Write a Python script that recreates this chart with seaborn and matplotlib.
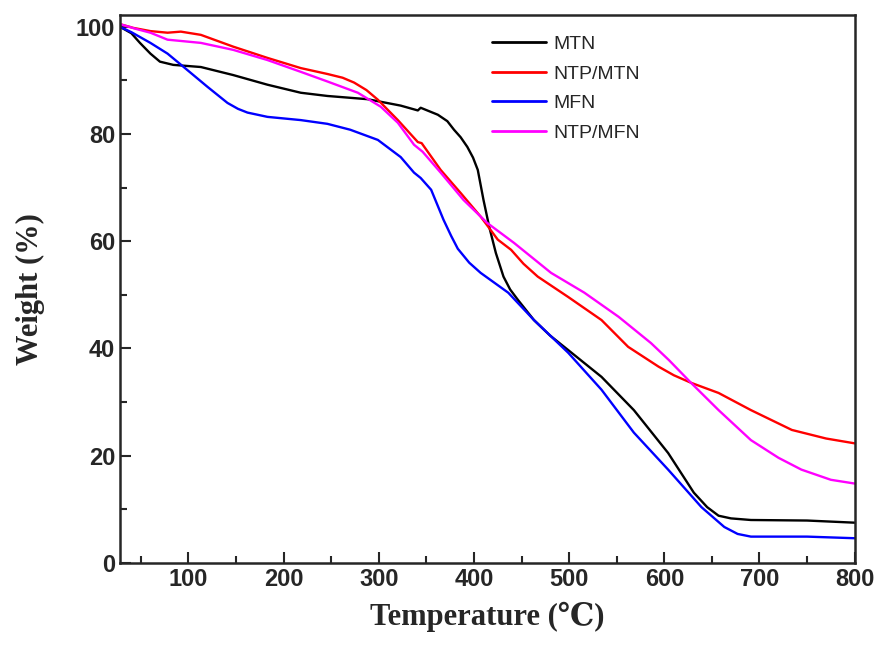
import pandas as pd
import numpy as np
import seaborn as sns
import matplotlib.pyplot as plt
from matplotlib.ticker import MultipleLocator

# data
mtn_t = [28, 40, 49, 60, 70, 84, 113, 147, 183, 218, 246, 288, 323, 341, 344, 362, 372, 379, 386, 393,
         399, 404, 410, 416, 423, 431, 438, 446, 463, 480, 499, 534, 568, 604, 631, 645, 657, 670, 691, 750, 800]
mtn_w = [100, 98.8, 97, 95, 93.5, 92.9, 92.5, 91, 89.2, 87.7, 87.1, 86.5, 85.3, 84.4, 84.9, 83.6, 82.4, 80.8, 79.4, 77.6,
         75.6, 73.3, 67.7, 62.7, 57.8, 53.4, 51.0, 49.1, 45.3, 42.4, 39.7, 34.7, 28.5, 20.5, 13.1, 10.4, 8.8, 8.3, 8.0, 7.9, 7.5]

ntp_mtn_t = [28, 42, 60, 78, 92, 113, 147, 183, 218, 246, 262, 274, 287, 299, 320, 341, 345, 365, 386, 407,
             425, 439, 452, 467, 499, 534, 562, 594, 610, 628, 657, 691, 734, 770, 800]
ntp_mtn_w = [100.5, 99.8, 99.2, 98.9, 99.1, 98.5, 96.3, 94.2, 92.3, 91.2, 90.5, 89.6, 88.2, 86.4, 82.6, 78.5, 78.3, 73.3, 69, 64.6,
             60.3, 58.4, 55.8, 53.4, 49.6, 45.3, 40.3, 36.6, 35.0, 33.6, 31.7, 28.5, 24.8, 23.2, 22.3]

mfn_t = [28, 40, 60, 78, 95, 120, 141, 152, 162, 183, 218, 246, 270, 299, 323, 337, 344, 355, 368,
         376, 383, 395, 407, 436, 463, 499, 534, 568, 604, 639, 663, 677, 691, 750, 800]
mfn_w = [100, 99, 97, 95, 92.5, 88.8, 85.8, 84.7, 84, 83.2, 82.6, 81.9, 80.8, 78.9, 75.7, 72.8, 71.8, 69.6, 64,
         61.0, 58.6, 56.0, 54.1, 50.4, 45.3, 39.2, 32.3, 24.3, 17.4, 10.4, 6.7, 5.4, 4.9, 4.9, 4.6]

ntp_mfn_t = [28, 45, 60, 78, 113, 147, 183, 218, 246, 278, 302, 320, 337, 346, 365, 389, 414,
             442, 481, 516, 552, 586, 605, 628, 657, 691, 720, 744, 775, 800]
ntp_mfn_w = [100.5, 99.6, 98.9, 97.6, 97, 95.7, 93.8, 91.6, 89.8, 87.7, 85.1, 82.1, 78, 76.7, 72.8, 67.7, 63.4,
             59.7, 54.1, 50.4, 45.9, 41, 37.8, 33.6, 28.5, 22.9, 19.6, 17.4, 15.5, 14.8]

names = ["MTN", "NTP/MTN", "MFN", "NTP/MFN"]
colors = {"MTN": "black", "NTP/MTN": "#ff0000", "MFN": "#0000ff", "NTP/MFN": "#ff00ff"}

frames = []
for name, t, w in zip(names, [mtn_t, ntp_mtn_t, mfn_t, ntp_mfn_t], [mtn_w, ntp_mtn_w, mfn_w, ntp_mfn_w]):
    frames.append(pd.DataFrame({"Temperature": t, "Weight": w, "Sample": name}))
df = pd.concat(frames, ignore_index=True)

sns.set_style("ticks")
plt.rcParams['font.family'] = ['Liberation Sans', 'DejaVu Sans']

fig = plt.figure(figsize=(8.82, 6.53), dpi=100)
ax = fig.add_axes([0.136, 0.138, 0.833, 0.839])

sns.lineplot(data=df, x="Temperature", y="Weight", hue="Sample", hue_order=names,
             palette=colors, sort=False, linewidth=1.7, ax=ax)

ax.set_xlim(28, 800)
ax.set_ylim(0, 102.2)
ax.xaxis.set_major_locator(MultipleLocator(100))
ax.xaxis.set_minor_locator(MultipleLocator(50))
ax.yaxis.set_major_locator(MultipleLocator(20))
ax.yaxis.set_minor_locator(MultipleLocator(10))
ax.tick_params(which="both", direction="in", top=False, right=False, width=1.5)
ax.tick_params(which="major", length=8)
ax.tick_params(which="minor", length=5)
for sp in ax.spines.values():
    sp.set_linewidth(1.8)

for lab in ax.get_xticklabels():
    lab.set_fontweight("bold")
    lab.set_fontsize(17)
for lab in ax.get_yticklabels():
    lab.set_fontweight("bold")
    lab.set_fontsize(17)

ax.set_xlabel("Temperature (℃)", family=['Liberation Serif', 'DejaVu Serif'],
              fontweight="bold", fontsize=22, labelpad=8)
ax.set_ylabel("Weight (%)", family=['Liberation Serif', 'DejaVu Serif'],
              fontweight="bold", fontsize=22, labelpad=22)

leg = ax.legend(loc="upper left", bbox_to_anchor=(0.482, 0.995), frameon=False,
                fontsize=14, handlelength=2.8, handletextpad=0.4, labelspacing=0.62)
for line in leg.get_lines():
    line.set_linewidth(2)

fig.savefig("out.png", dpi=100)
